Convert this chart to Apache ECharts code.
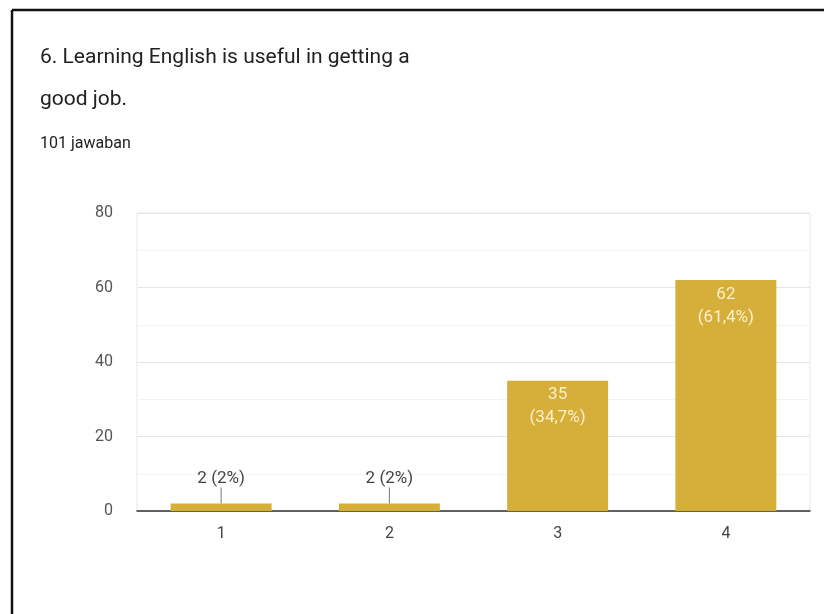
<!DOCTYPE html>
<html>
<head>
<meta charset="utf-8">
<script src="https://cdn.jsdelivr.net/npm/echarts@6/dist/echarts.min.js"></script>
<style>
  html, body { margin: 0; padding: 0; background: #ffffff; }
  #chart { width: 824px; height: 614px; }
</style>
</head>
<body>
<div id="chart"></div>
<script>
// Survey answers on a 1–4 scale
const categories = ['1', '2', '3', '4'];
const counts = [2, 2, 35, 62];
const totalResponses = 101;
const yTicks = [0, 20, 40, 60, 80];

const questionTitle = '6. Learning English is useful in getting a\ngood job.';
const responsesText = totalResponses + ' jawaban';

const barColor = '#d6ae3a';
const fontFamily = 'Roboto, "Noto Sans", sans-serif';
const smallBarLimit = 10;

// "34,7%" style percentage, one decimal, comma separator, trailing ",0" dropped
function pctText(v) {
  const p = Math.round(v / totalResponses * 1000) / 10;
  return String(p).replace('.', ',') + '%';
}

// Small bars carry their label above with a short guide line; tall bars inside
const seriesData = counts.map(function (v) {
  if (v < smallBarLimit) {
    return {
      value: v,
      label: {
        show: true,
        position: 'top',
        distance: 0,
        color: '#444444',
        fontSize: 17,
        formatter: function (p) { return p.value + ' (' + pctText(p.value) + ')'; }
      },
      labelLine: { show: true, lineStyle: { color: '#777777', width: 1 } }
    };
  }
  return {
    value: v,
    label: {
      show: true,
      position: 'insideTop',
      distance: 3,
      color: '#fbf0cc',
      fontSize: 17,
      lineHeight: 23,
      formatter: function (p) { return p.value + '\n(' + pctText(p.value) + ')'; }
    }
  };
});

const chart = echarts.init(document.getElementById('chart'), null, { renderer: 'canvas' });

chart.setOption({
  backgroundColor: '#ffffff',
  animation: false,
  textStyle: { fontFamily: fontFamily },
  title: [
    {
      text: questionTitle,
      left: 35,
      top: 32,
      textStyle: {
        fontFamily: fontFamily,
        fontSize: 21,
        fontWeight: 'normal',
        color: '#202124',
        lineHeight: 42
      }
    },
    {
      text: responsesText,
      left: 35,
      top: 131,
      textStyle: {
        fontFamily: fontFamily,
        fontSize: 16,
        fontWeight: 'normal',
        color: '#202124'
      }
    }
  ],
  graphic: [
    // page frame along the top and left edges
    { type: 'line', shape: { x1: 12, y1: 10, x2: 824, y2: 10 }, style: { stroke: '#111111', lineWidth: 2.5 } },
    { type: 'line', shape: { x1: 12, y1: 10, x2: 12, y2: 614 }, style: { stroke: '#111111', lineWidth: 2.5 } }
  ],
  grid: {
    left: 137,
    right: 14,
    top: 213,
    bottom: 103,
    show: true,
    borderColor: '#e8e8e8',
    borderWidth: 1,
    backgroundColor: 'transparent'
  },
  xAxis: {
    type: 'category',
    data: categories,
    axisLine: { show: true, lineStyle: { color: '#333333', width: 1.5 } },
    axisTick: { show: false },
    axisLabel: { color: '#444444', fontSize: 16, margin: 15 }
  },
  yAxis: {
    type: 'value',
    min: yTicks[0],
    max: yTicks[yTicks.length - 1],
    interval: yTicks[1] - yTicks[0],
    axisLine: { show: false },
    axisTick: { show: false },
    axisLabel: { color: '#555555', fontSize: 16, margin: 24 },
    splitLine: { show: true, lineStyle: { color: '#e6e6e6', width: 1 } },
    minorTick: { show: false, splitNumber: 2 },
    minorSplitLine: { show: true, lineStyle: { color: '#f3f3f3', width: 1 } }
  },
  series: [
    {
      type: 'bar',
      data: seriesData,
      barWidth: '60%',
      itemStyle: { color: barColor },
      // lift the labels of the short bars so a guide line joins them to the bar
      labelLayout: function (params) {
        return counts[params.dataIndex] < smallBarLimit ? { dy: -16 } : {};
      }
    }
  ]
});
</script>
</body>
</html>
